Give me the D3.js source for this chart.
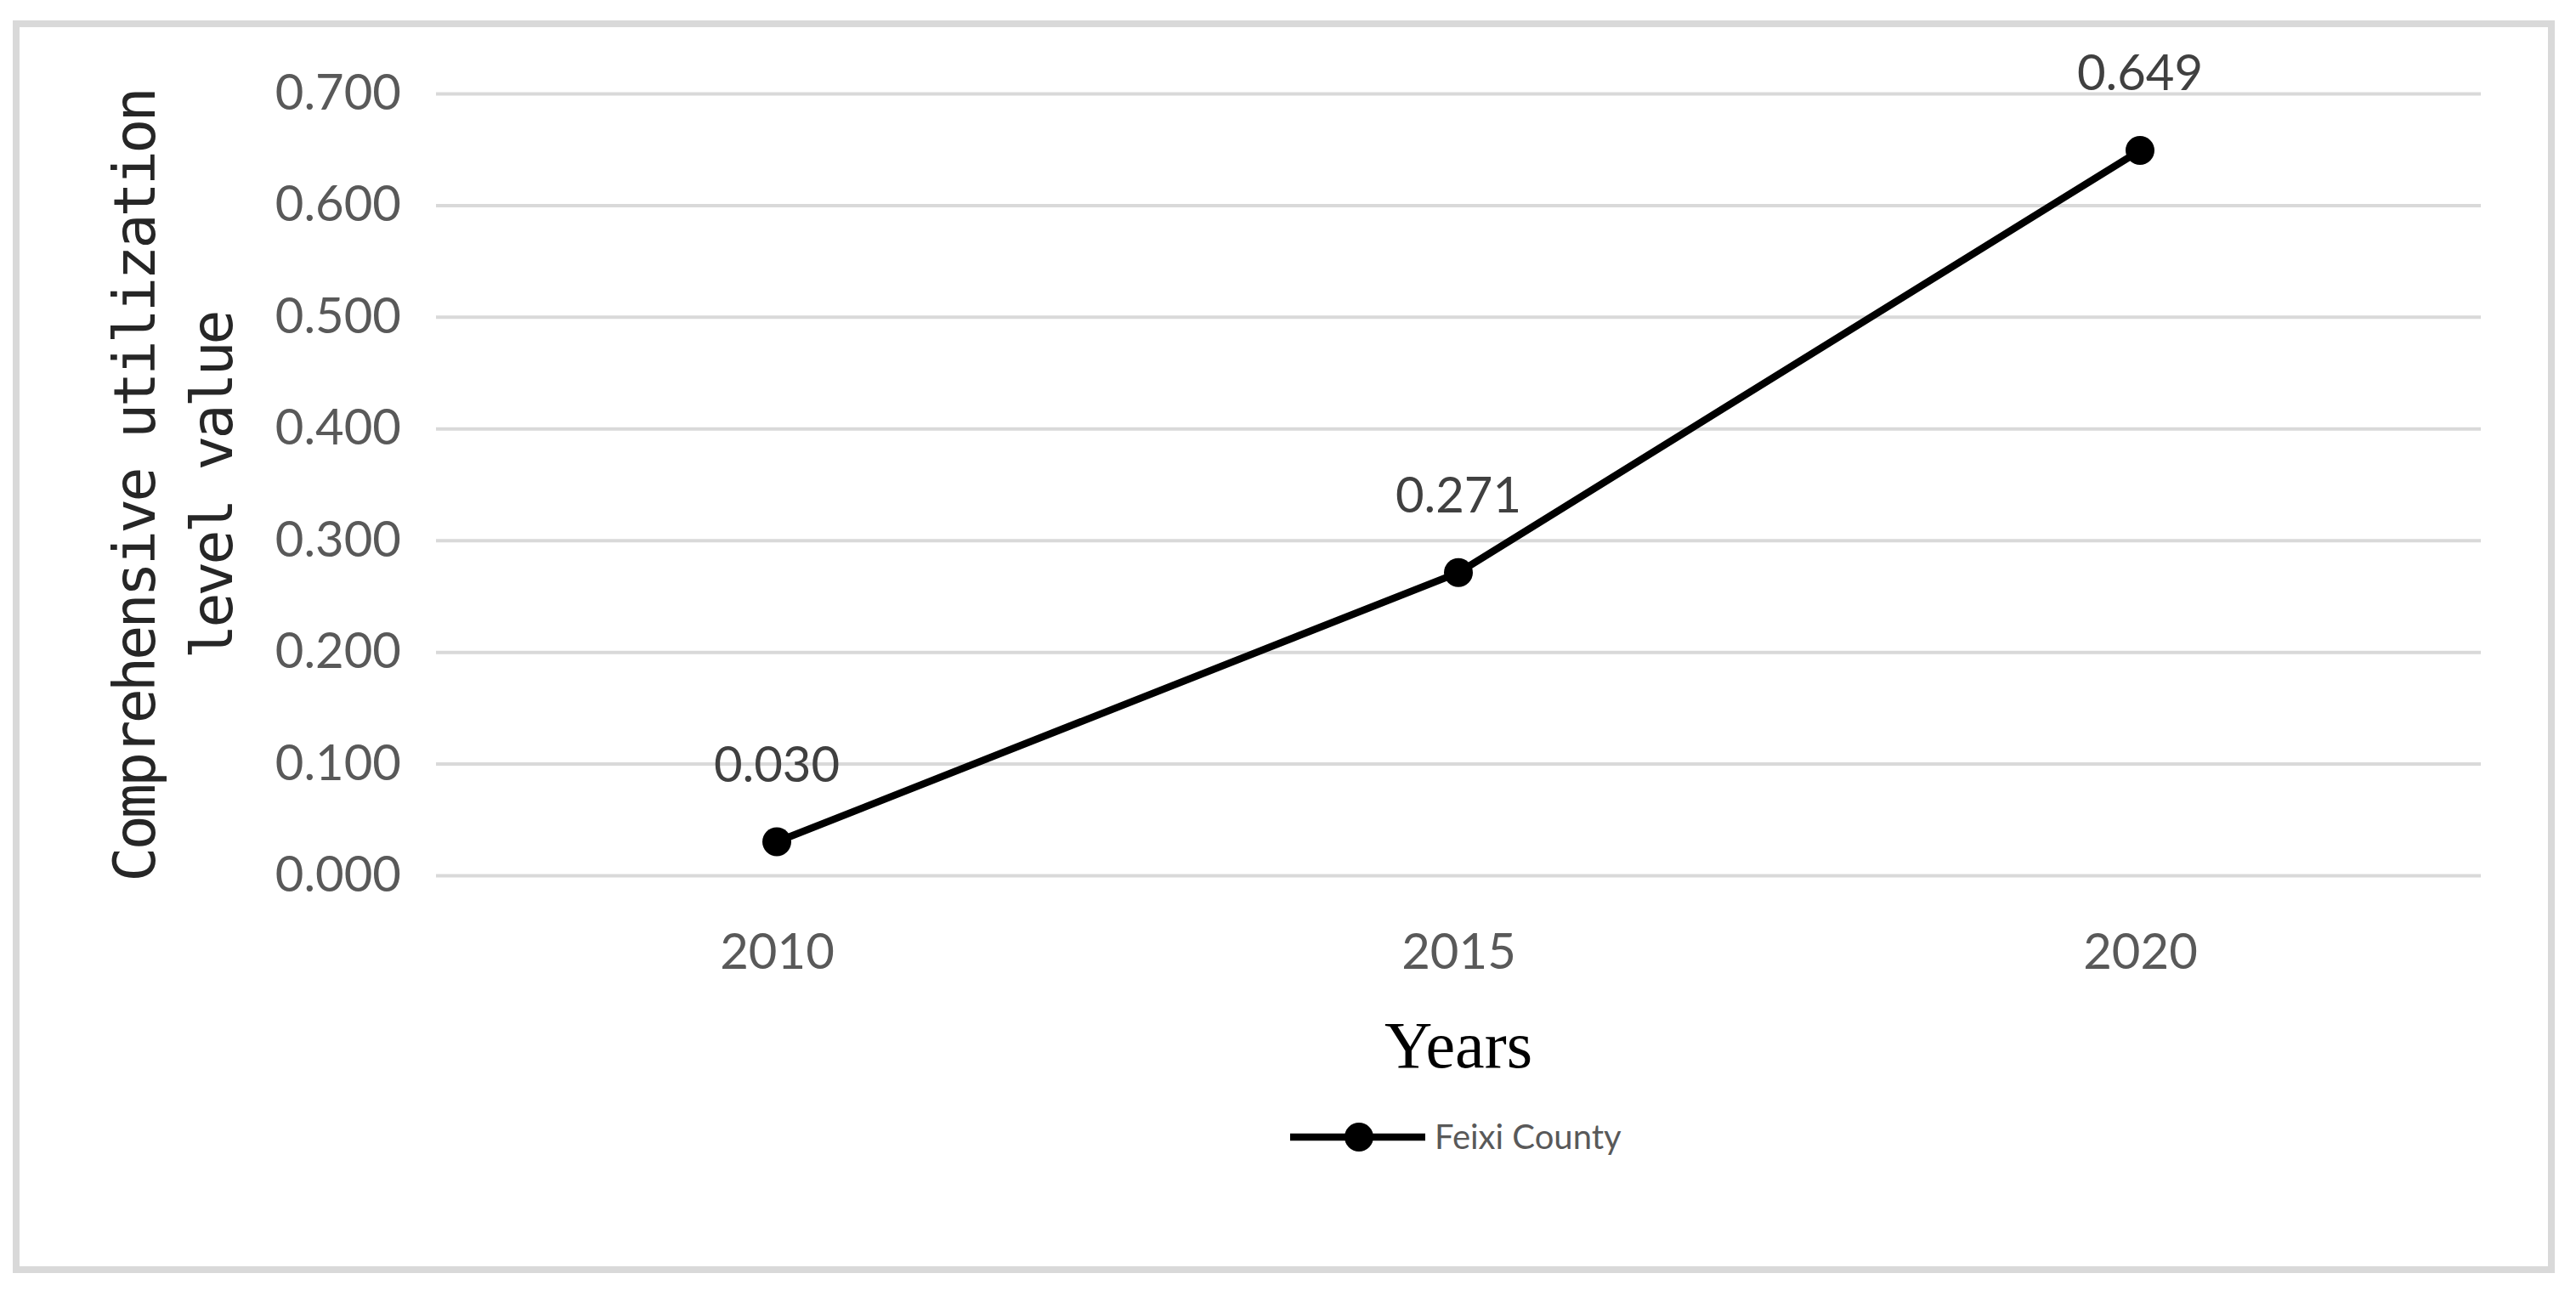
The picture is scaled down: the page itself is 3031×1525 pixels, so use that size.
<!DOCTYPE html>
<html>
<head>
<meta charset="utf-8">
<script src="https://cdn.jsdelivr.net/npm/d3@7"></script>
<style>
  body { margin: 0; background: #fff; }
  svg { display: block; }
</style>
</head>
<body>
<div id="chart"></div>
<script>
// data
var years = ["2010", "2015", "2020"];
var values = [0.030, 0.271, 0.649];
var yTicks = [0, 0.1, 0.2, 0.3, 0.4, 0.5, 0.6, 0.7];
var seriesName = "Feixi County";
var yTitle = ["Comprehensive utilization", "level value"];
var xTitle = "Years";

var width = 3031, height = 1525;
var plotLeft = 513, plotRight = 2919, plotTop = 110, plotBottom = 1030;

var svg = d3.select("#chart").append("svg")
    .attr("width", width).attr("height", height);

// outer frame
svg.append("rect")
    .attr("x", 19).attr("y", 28)
    .attr("width", 2983).attr("height", 1466)
    .attr("fill", "#fff")
    .attr("stroke", "#d9d9d9").attr("stroke-width", 8);

var x = d3.scalePoint().domain(years).range([plotLeft, plotRight]).padding(0.5);
var y = d3.scaleLinear().domain([0, 0.7]).range([plotBottom, plotTop]);

// y axis + gridlines
var yAxis = svg.append("g")
    .attr("transform", "translate(" + plotLeft + ",0)")
    .call(d3.axisLeft(y).tickValues(yTicks).tickFormat(d3.format(".3f"))
        .tickSize(-(plotRight - plotLeft)).tickPadding(41));
yAxis.select(".domain").remove();
yAxis.selectAll("line").attr("stroke", "#d9d9d9").attr("stroke-width", 4);
yAxis.selectAll("text")
    .attr("font-family", "Lato, sans-serif").attr("font-size", 58)
    .attr("fill", "#595959");

// x axis labels
var xAxis = svg.append("g")
    .attr("transform", "translate(0," + plotBottom + ")")
    .call(d3.axisBottom(x).tickSize(0).tickPadding(69));
xAxis.select(".domain").remove();
xAxis.selectAll("text")
    .attr("font-family", "Lato, sans-serif").attr("font-size", 58)
    .attr("fill", "#595959");

// line
var line = d3.line()
    .x(function(d, i){ return x(years[i]); })
    .y(function(d){ return y(d); });
svg.append("path").datum(values)
    .attr("d", line).attr("fill", "none")
    .attr("stroke", "#000").attr("stroke-width", 8.5)
    .attr("stroke-linejoin", "round");

svg.selectAll(".dot").data(values).enter().append("circle")
    .attr("class", "dot")
    .attr("cx", function(d, i){ return x(years[i]); })
    .attr("cy", function(d){ return y(d); })
    .attr("r", 17).attr("fill", "#000");

// data labels
svg.selectAll(".lbl").data(values).enter().append("text")
    .attr("class", "lbl")
    .attr("x", function(d, i){ return x(years[i]); })
    .attr("y", function(d){ return y(d) - 71; })
    .attr("text-anchor", "middle")
    .attr("font-family", "Lato, sans-serif").attr("font-size", 58)
    .attr("fill", "#404040")
    .text(function(d){ return d3.format(".3f")(d); });

// y title, two lines
var yLens = [935, 411];
yTitle.forEach(function(t, i){
    svg.append("text")
        .attr("transform", "translate(" + (182 + i * 91) + "," + ((plotTop + plotBottom) / 2) + ") rotate(-90)")
        .attr("text-anchor", "middle")
        .attr("font-family", "'DejaVu Sans Mono', monospace").attr("font-size", 68)
        .attr("textLength", yLens[i]).attr("lengthAdjust", "spacing")
        .attr("fill", "#262626")
        .text(t);
});

// x title
svg.append("text")
    .attr("x", (plotLeft + plotRight) / 2).attr("y", 1256)
    .attr("text-anchor", "middle")
    .attr("font-family", "'Liberation Serif', serif").attr("font-size", 78)
    .attr("fill", "#000")
    .text(xTitle);

// legend
var lg = svg.append("g").attr("transform", "translate(1518,1338)");
lg.append("line").attr("x1", 0).attr("x2", 159)
    .attr("stroke", "#000").attr("stroke-width", 8.5);
lg.append("circle").attr("cx", 81).attr("r", 17).attr("fill", "#000");
lg.append("text").attr("x", 170).attr("dy", "0.35em")
    .attr("font-family", "Lato, sans-serif").attr("font-size", 40)
    .attr("fill", "#595959")
    .text(seriesName);
</script>
</body>
</html>
